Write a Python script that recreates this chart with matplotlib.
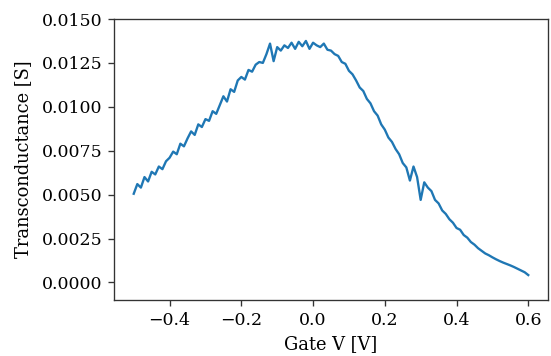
import numpy as np
import matplotlib
matplotlib.use("Agg")
import matplotlib.pyplot as plt

plt.rcParams['font.family'] = ['DejaVu Serif']

# Transconductance [S] sampled every 0.01 V from -0.5 V to 0.6 V
gm = [
    0.00505, 0.00560, 0.00540, 0.00600, 0.00575, 0.00630, 0.00615, 0.00660, 0.00645, 0.00690,
    0.00710, 0.00745, 0.00730, 0.00790, 0.00775, 0.00820, 0.00860, 0.00840, 0.00900, 0.00885,
    0.00930, 0.00920, 0.00975, 0.00960, 0.01010, 0.01060, 0.01030, 0.01100, 0.01085, 0.01150,
    0.01170, 0.01155, 0.01210, 0.01200, 0.01240, 0.01255, 0.01250, 0.01300, 0.01360, 0.01260,
    0.01340, 0.01320, 0.01350, 0.01335, 0.01365, 0.01330, 0.01370, 0.01345, 0.01375, 0.01330,
    0.01365, 0.01350, 0.01340, 0.01360, 0.01325, 0.01320, 0.01300, 0.01290, 0.01255, 0.01245,
    0.01205, 0.01185, 0.01150, 0.01110, 0.01090, 0.01045, 0.01020, 0.00975, 0.00950, 0.00900,
    0.00870, 0.00825, 0.00800, 0.00760, 0.00730, 0.00680, 0.00655, 0.00580, 0.00660, 0.00600,
    0.00470, 0.00570, 0.00540, 0.00520, 0.00470, 0.00450, 0.00410, 0.00390, 0.00360, 0.00340,
    0.00310, 0.00300, 0.00270, 0.00255, 0.00230, 0.00215, 0.00195, 0.00180, 0.00165, 0.00155,
    0.00143, 0.00132, 0.00122, 0.00113, 0.00105, 0.00097, 0.00088, 0.00078, 0.00068, 0.00058,
    0.00042,
]
v_start, v_stop = -0.5, 0.6
gate_v = np.linspace(v_start, v_stop, len(gm))

y_ticks = [0.0, 0.0025, 0.005, 0.0075, 0.01, 0.0125, 0.015]
x_ticks = [-0.4, -0.2, 0.0, 0.2, 0.4, 0.6]

fig = plt.figure(figsize=(551 / 120, 356 / 120), dpi=120)
ax = fig.add_axes([114 / 551, 56 / 356, 434 / 551, 281 / 356])
ax.plot(gate_v, gm, color='#1f77b4', lw=1.4)
ax.set_ylim(-0.001, 0.015)
ax.set_yticks(y_ticks)
ax.set_yticklabels([f'{t:.4f}' for t in y_ticks])
ax.set_xticks(x_ticks)
ax.set_xticklabels([f'{t:.1f}'.replace('-', '\u2212') for t in x_ticks])
ax.tick_params(labelsize=10.4, color='#333333')
ax.set_xlabel('Gate V [V]', fontsize=10.7)
ax.set_ylabel('Transconductance [S]', fontsize=10.7, labelpad=6)
for s in ax.spines.values():
    s.set_color('#333333')
fig.savefig('out.png', dpi=120)
